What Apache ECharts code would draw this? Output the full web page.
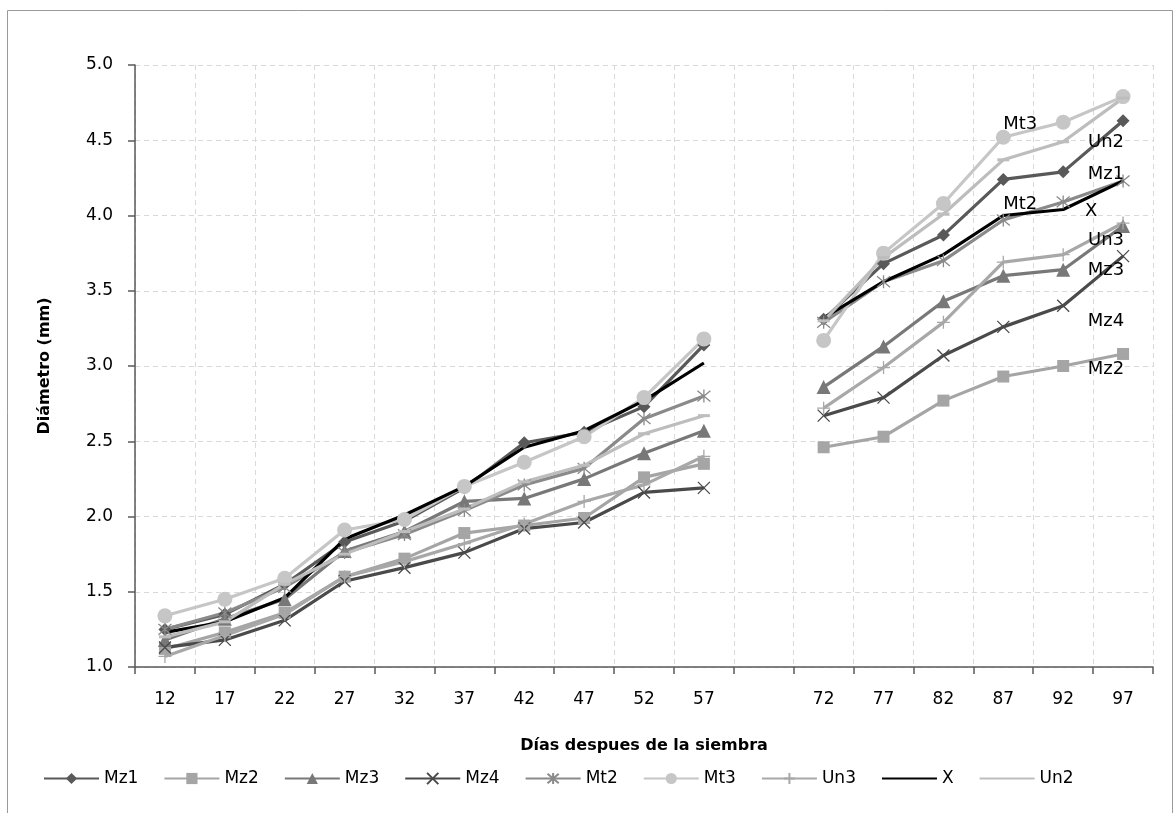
<!DOCTYPE html>
<html>
<head>
<meta charset="utf-8">
<script src="https://cdn.jsdelivr.net/npm/echarts@6/dist/echarts.min.js"></script>
<style>
  html, body { margin: 0; padding: 0; background: #fff; }
  #chart { width: 1174px; height: 813px; }
</style>
</head>
<body>
<div id="chart"></div>
<script>
// dias despues de la siembra (62/67 no medidos -> hueco)
const dias = ['12', '17', '22', '27', '32', '37', '42', '47', '52', '57', '', '72', '77', '82', '87', '92', '97']

const mz1 = [1.25, 1.35, 1.55, 1.83, 1.97, 2.19, 2.49, 2.56, 2.73, 3.14, null, 3.31, 3.68, 3.87, 4.24, 4.29, 4.63]
const mz2 = [1.12, 1.23, 1.36, 1.60, 1.72, 1.89, 1.94, 1.99, 2.26, 2.35, null, 2.46, 2.53, 2.77, 2.93, 3.00, 3.08]
const mz3 = [1.18, 1.32, 1.45, 1.77, 1.90, 2.10, 2.12, 2.25, 2.42, 2.57, null, 2.86, 3.13, 3.43, 3.60, 3.64, 3.93]
const mz4 = [1.13, 1.18, 1.31, 1.57, 1.66, 1.76, 1.92, 1.96, 2.16, 2.19, null, 2.67, 2.79, 3.07, 3.26, 3.40, 3.73]
const mt2 = [1.25, 1.36, 1.53, 1.76, 1.88, 2.04, 2.21, 2.32, 2.65, 2.80, null, 3.29, 3.56, 3.70, 3.97, 4.09, 4.23]
const mt3 = [1.34, 1.45, 1.59, 1.91, 1.98, 2.20, 2.36, 2.53, 2.79, 3.18, null, 3.17, 3.75, 4.08, 4.52, 4.62, 4.79]
const un3 = [1.07, 1.21, 1.35, 1.60, 1.70, 1.82, 1.95, 2.10, 2.21, 2.40, null, 2.72, 2.99, 3.29, 3.69, 3.74, 3.95]
const xProm = [1.23, 1.30, 1.46, 1.85, 2.01, 2.20, 2.46, 2.57, 2.77, 3.02, null, 3.32, 3.56, 3.74, 4.00, 4.04, 4.23]
const un2 = [1.20, 1.30, 1.55, 1.75, 1.90, 2.05, 2.23, 2.34, 2.55, 2.67, null, 3.30, 3.72, 4.01, 4.37, 4.49, 4.78]

const yTicks = {min: 1, max: 5, step: 0.5}

const crossPath = 'path://M0,0L10,10M10,0L0,10'
const starPath = 'path://M0,0L10,10M10,0L0,10M5,-1L5,11'
const plusPath = 'path://M5,0L5,10M0,5L10,5'

// estilo de cada serie
const estilos = [
  {name: 'Mz1', data: mz1, color: '#595959', symbol: 'diamond', size: 13},
  {name: 'Mz2', data: mz2, color: '#a5a5a5', symbol: 'rect', size: 12},
  {name: 'Mz3', data: mz3, color: '#787878', symbol: 'triangle', size: 14},
  {name: 'Mz4', data: mz4, color: '#4a4a4a', symbol: crossPath, size: 12, hollow: true},
  {name: 'Mt2', data: mt2, color: '#8a8a8a', symbol: starPath, size: 13, hollow: true},
  {name: 'Mt3', data: mt3, color: '#c6c6c6', symbol: 'circle', size: 15},
  {name: 'Un3', data: un3, color: '#a8a8a8', symbol: plusPath, size: 13, hollow: true},
  {name: 'X', data: xProm, color: '#000000', symbol: 'none', size: 1, plainLegend: true},
  {name: 'Un2', data: un2, color: '#bdbdbd', symbol: 'rect', size: [12, 3], plainLegend: true},
]

// etiquetas de texto junto a las series (indice del punto, desplazamiento)
const etiquetas = {
  Mt3: {idx: 14, offset: [17, -13]},
  Mt2: {idx: 14, offset: [17, -16]},
  Un2: {idx: 16, offset: [-17, 44]},
  Mz1: {idx: 16, offset: [-17, 54]},
  X: {idx: 16, offset: [-32, 30]},
  Un3: {idx: 16, offset: [-17, 17]},
  Mz3: {idx: 16, offset: [-17, 44]},
  Mz4: {idx: 16, offset: [-17, 65]},
  Mz2: {idx: 16, offset: [-17, 15]},
}

const fuente = '"DejaVu Sans", Verdana, sans-serif'

const buildSeries = () => {
  return estilos.map(s => {
    const et = etiquetas[s.name]
    const data = s.data.map((v, i) => {
      if (!et || i !== et.idx) return v
      const item = {
        value: v,
        label: {
          show: true,
          position: 'inside',
          offset: et.offset,
          formatter: s.name,
          fontFamily: fuente,
          fontSize: 18,
          color: '#000',
        },
      }
      if (s.symbol === 'none') {
        item.symbol = 'circle'
        item.symbolSize = 1
      }
      return item
    })
    return {
      name: s.name,
      type: 'line',
      data: data,
      symbol: s.symbol,
      symbolSize: s.size,
      showSymbol: true,
      connectNulls: false,
      z: 2,
      lineStyle: {color: s.color, width: 3.2},
      itemStyle: s.hollow
        ? {color: 'transparent', borderColor: s.color, borderWidth: 1.3}
        : {color: s.color},
      emphasis: {disabled: true},
    }
  })
}

const chart = echarts.init(document.getElementById('chart'))

chart.setOption({
  animation: false,
  backgroundColor: '#fff',
  textStyle: {fontFamily: fuente},
  graphic: [
    {
      type: 'rect',
      shape: {x: 7.5, y: 10.5, width: 1165, height: 830},
      style: {fill: 'none', stroke: '#9a9a9a', lineWidth: 1},
      silent: true,
    },
  ],
  grid: {left: 135, right: 21, top: 65, bottom: 146},
  legend: {
    left: 38,
    top: 765,
    itemWidth: 55,
    itemHeight: 14,
    itemGap: 25,
    textStyle: {fontFamily: fuente, fontSize: 17, color: '#000'},
    data: estilos.map(s => s.plainLegend ? {name: s.name, itemStyle: {opacity: 0}} : s.name),
  },
  xAxis: {
    type: 'category',
    data: dias,
    boundaryGap: true,
    name: 'Días despues de la siembra',
    nameLocation: 'middle',
    nameGap: 71,
    nameTextStyle: {fontFamily: fuente, fontWeight: 'bold', fontSize: 16, color: '#000'},
    axisLine: {lineStyle: {color: '#595959', width: 1.5}},
    axisTick: {show: true, interval: 0, length: 7, lineStyle: {color: '#595959', width: 1.5}},
    axisLabel: {interval: 0, margin: 24, fontSize: 17, color: '#000', fontFamily: fuente},
    splitLine: {show: true, interval: 0, lineStyle: {color: '#d9d9d9', type: [5, 4], width: 1}},
  },
  yAxis: {
    type: 'value',
    min: yTicks.min,
    max: yTicks.max,
    interval: yTicks.step,
    name: 'Diámetro (mm)',
    nameLocation: 'middle',
    nameGap: 82,
    nameTextStyle: {fontFamily: fuente, fontWeight: 'bold', fontSize: 16, color: '#000'},
    axisLine: {show: true, lineStyle: {color: '#595959', width: 1.5}},
    axisTick: {show: true, length: 7, lineStyle: {color: '#595959', width: 1.5}},
    axisLabel: {margin: 22, fontSize: 17, color: '#000', fontFamily: fuente, formatter: v => v.toFixed(1)},
    splitLine: {show: true, lineStyle: {color: '#d9d9d9', type: [5, 4], width: 1}},
  },
  series: buildSeries(),
})
</script>
</body>
</html>
